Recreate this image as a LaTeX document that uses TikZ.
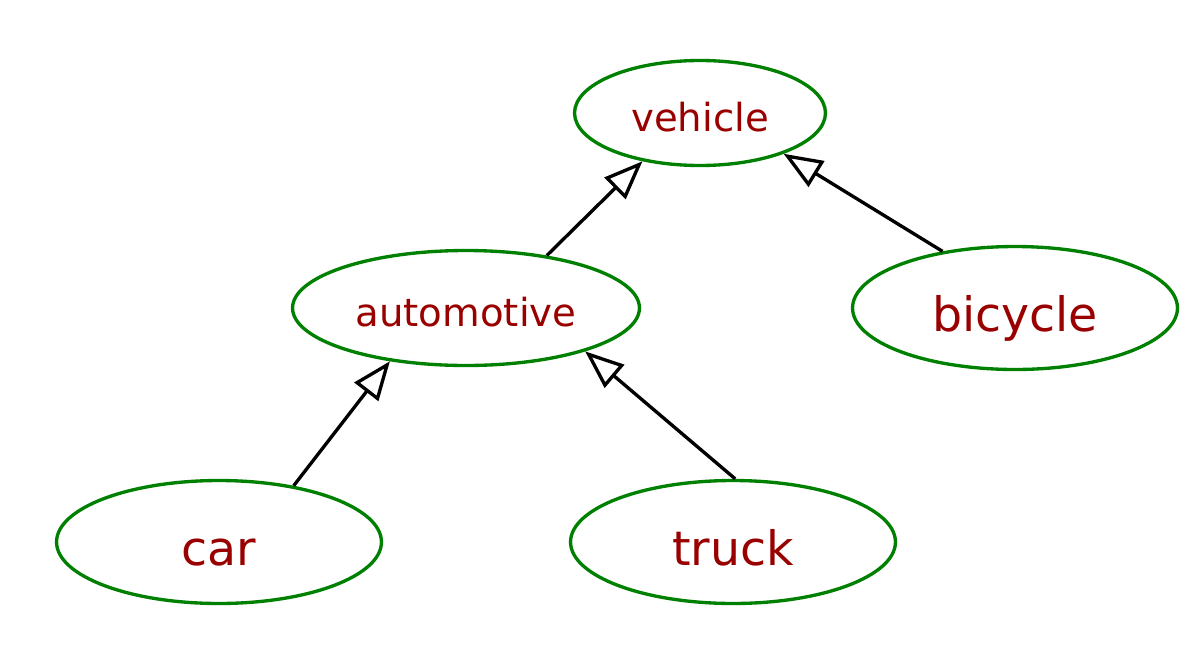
\documentclass[tikz,border=0pt]{standalone}
\usepackage{fontspec}
\setmainfont{DejaVu Sans}
\usetikzlibrary{shapes.geometric,arrows.meta}
\definecolor{ellgreen}{RGB}{0,128,0}
\definecolor{txtred}{RGB}{153,0,0}
\begin{document}
\begin{tikzpicture}[x=0.02cm,y=-0.02cm,
  cls/.style={ellipse,draw=ellgreen,line width=1.9pt,text=txtred,inner sep=0pt,text depth=0pt},
  small/.style={cls,text height=21.6pt,font=\fontsize{22}{26}\selectfont},
  big/.style={cls,minimum width=6.5cm,minimum height=2.46cm,text height=26.6pt,font=\fontsize{27}{30}\selectfont},
  inh/.style={line width=1.9pt,-{Triangle[open,length=22pt,width=17pt]}}]
\useasboundingbox (0,0) rectangle (1200,656);
\node[small,minimum width=5.02cm,minimum height=2.1cm] (vehicle) at (700,113) {vehicle};
\node[small,minimum width=6.94cm,minimum height=2.3cm] (auto) at (466,308) {automotive};
\node[big] (bicycle) at (1015,308) {bicycle};
\node[big] (car) at (219,542) {car};
\node[big] (truck) at (733,542) {truck};
\draw[inh] (auto.33) -- (vehicle.220);
\draw[inh] (bicycle.142) -- (vehicle.334);
\draw[inh] (car.37) -- (auto.215);
\draw[inh] (truck.88) -- (auto.340);
\end{tikzpicture}
\end{document}
